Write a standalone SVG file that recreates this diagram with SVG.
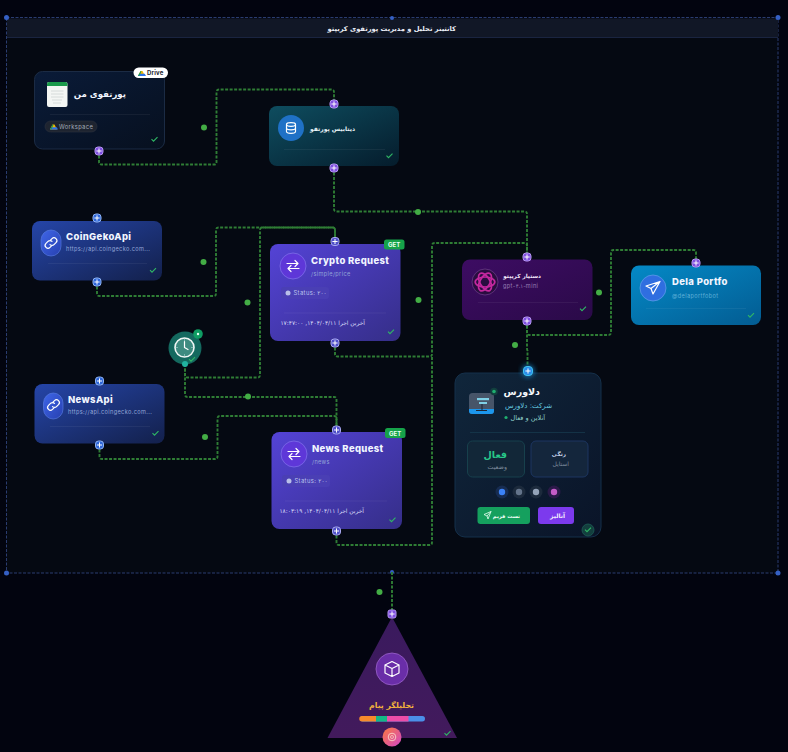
<svg xmlns="http://www.w3.org/2000/svg" width="788" height="752" viewBox="0 0 788 752">
<style>
text{font-family:"Inter","DejaVu Sans",sans-serif}
.fa{font-family:"DejaVu Sans","Noto Sans",sans-serif;direction:rtl}
.t{fill:#f1f5ff;font-weight:800;font-size:9.5px;letter-spacing:.35px}
.s{fill:#93a5d8;font-size:5.6px;letter-spacing:.38px}
.conn{fill:none;stroke:#2f7d35;stroke-width:1.9;stroke-dasharray:3 1.500;stroke-linejoin:round}
.dot{fill:#43ad45}
.chk{fill:none;stroke:#2fb765;stroke-width:1.1}
.div{stroke:#ffffff;stroke-opacity:.07;stroke-width:.8}
.ic{fill:none;stroke:#fff;stroke-width:1.2;stroke-linecap:round;stroke-linejoin:round}
.hc{stroke:#fff;stroke-width:1}
.hp{fill:#7f4fe0;stroke:#b596f2;stroke-width:1}
.hb{fill:#2e66d8;stroke:#8fb4f5;stroke-width:1}
.hi{fill:#4f4fc8;stroke:#a9a9f0;stroke-width:1}
.corner{fill:#3560c4}
</style>
<defs>
<linearGradient id="gP" x1="0" y1="0" x2="1" y2="1"><stop offset="0" stop-color="#0a1b38"/><stop offset="1" stop-color="#07101f"/></linearGradient>
<linearGradient id="gD" x1="0" y1="0" x2="1" y2="1"><stop offset="0" stop-color="#0e4d5f"/><stop offset="1" stop-color="#051c2c"/></linearGradient>
<linearGradient id="gA" x1="0" y1="0" x2="1" y2="1"><stop offset="0" stop-color="#2545a8"/><stop offset="1" stop-color="#13204b"/></linearGradient>
<linearGradient id="gR" x1="0" y1="0" x2="1" y2="1"><stop offset="0" stop-color="#5443d6"/><stop offset="1" stop-color="#352e88"/></linearGradient>
<linearGradient id="gO" x1="0" y1="0" x2="1" y2="1"><stop offset="0" stop-color="#3d0c63"/><stop offset="1" stop-color="#2a0a48"/></linearGradient>
<linearGradient id="gT" x1="0" y1="0" x2="1" y2="1"><stop offset="0" stop-color="#0489c6"/><stop offset="1" stop-color="#035c92"/></linearGradient>
<linearGradient id="gM" x1="0" y1="0" x2="1" y2="1"><stop offset="0" stop-color="#10263b"/><stop offset="1" stop-color="#0a1428"/></linearGradient>
<linearGradient id="gI" x1="0" y1="0" x2="1" y2="1"><stop offset="0" stop-color="#3f66e8"/><stop offset="1" stop-color="#2740b0"/></linearGradient>
<linearGradient id="gB" x1="0" y1="0" x2="1" y2="1"><stop offset="0" stop-color="#fb7a3c"/><stop offset="1" stop-color="#d346c8"/></linearGradient>
<linearGradient id="gV" x1="0" y1="0" x2="0" y2="1"><stop offset="0" stop-color="#3a1a5e"/><stop offset="1" stop-color="#421a5c"/></linearGradient>
<filter id="glow" x="-20%" y="-20%" width="140%" height="140%"><feGaussianBlur stdDeviation="2.5"/></filter>
<g id="plus"><path class="hc" d="M-2.6 0H2.6M0-2.6V2.6"/></g>
<g id="link"><path class="ic" d="M-1 -2.4l2-2a2.8 2.8 0 0 1 4 4l-2 2a2.8 2.8 0 0 1-4 0M1 2.4l-2 2a2.8 2.8 0 0 1-4-4l2-2a2.8 2.8 0 0 1 4 0"/></g>
<g id="loop"><path class="ic" d="M-6-2.5H4.5M2-5.5l3 3-3 3M6 2.5H-4.5M-2 5.5l-3-3 3-3"/></g>
<path id="check" class="chk" d="M0 2.2l2 2 4-4"/>
</defs>

<rect width="788" height="752" fill="#02040f"/>
<g id="container">
<rect x="6.500" y="17.500" width="771.500" height="555.500" fill="#050912" stroke="#2a3c70" stroke-width="1" stroke-dasharray="3 1.500"/>
<rect x="7" y="18.500" width="771" height="19" fill="#111726"/>
<line x1="7" y1="37.500" x2="778" y2="37.500" stroke="#1a2440"/>
<text class="fa" x="456" y="30.500" font-size="6.700" font-weight="700" fill="#e8ecf5" text-anchor="start">کانتینر تحلیل و مدیریت پورتفوی کریپتو</text>
<circle class="corner" cx="6.500" cy="17.500" r="2.500"/><circle class="corner" cx="392" cy="18" r="2"/><circle class="corner" cx="778" cy="17.500" r="2.500"/>
<circle class="corner" cx="6.500" cy="573" r="2.500"/><circle class="corner" cx="392" cy="572" r="2"/><circle class="corner" cx="778" cy="573" r="2.500"/>
</g>

<g id="connectors">
<path class="conn" d="M99 151V162q0 2.500 2.500 2.500H214q2.500 0 2.500-2.500V92q0-2.500 2.500-2.500H331.500q2.500 0 2.500 2.500V104"/>
<path class="conn" d="M334 168V209q0 2.500 2.500 2.500H524.500q2.500 0 2.500 2.500V257"/>
<path class="conn" d="M97 282V293.500q0 2.500 2.500 2.500H213.500q2.500 0 2.500-2.500V230q0-2.500 2.500-2.500H332.500q2.500 0 2.500 2.500V241.500"/>
<path class="conn" d="M185 364V375q0 2.500 2.500 2.500H257.500q2.500 0 2.500-2.500V230q0-2.500 2.500-2.500H332.500q2.500 0 2.500 2.500V241.500"/>
<path class="conn" d="M185 364V394.500q0 2.500 2.500 2.500H334q2.500 0 2.500 2.500V430"/>
<path class="conn" d="M99.500 445V456.500q0 2.500 2.500 2.500H215q2.500 0 2.500-2.500V418.500q0-2.500 2.500-2.500H334q2.500 0 2.500 2.500V430"/>
<path class="conn" d="M335 343V354q0 2.500 2.500 2.500H429.500q2.500 0 2.500-2.500V245.500q0-2.500 2.500-2.500H524.500q2.500 0 2.500 2.500V257"/>
<path class="conn" d="M336.500 531V542.500q0 2.500 2.500 2.500H429.500q2.500 0 2.500-2.500V356"/>
<path class="conn" d="M527 321V332.500q0 2.500 2.500 2.500H608.500q2.500 0 2.500-2.500V252.500q0-2.500 2.500-2.500H693.500q2.500 0 2.500 2.500V263"/>
<path class="conn" d="M527 321V348q0 2.500 .5 2.500V371"/>
<path class="conn" d="M392 572V614"/>
<circle class="dot" cx="204" cy="127.500" r="3"/>
<circle class="dot" cx="418" cy="212" r="3"/>
<circle class="dot" cx="203.500" cy="262" r="3"/>
<circle class="dot" cx="247.500" cy="302.500" r="3"/>
<circle class="dot" cx="248" cy="396.500" r="3"/>
<circle class="dot" cx="205" cy="437" r="3"/>
<circle class="dot" cx="418.500" cy="300" r="3"/>
<circle class="dot" cx="599" cy="292.500" r="3"/>
<circle class="dot" cx="515" cy="345" r="3"/>
<circle class="dot" cx="379.500" cy="592" r="3"/>
</g>

<g id="node-portfolio">
<rect x="34.500" y="71.500" width="130" height="77.500" rx="8" fill="url(#gP)" stroke="#1b2b44"/>
<line class="div" x1="50" y1="114.500" x2="150" y2="114.500"/>
<rect x="47" y="82" width="20.500" height="25" rx="2" fill="#f4f6f4"/>
<path d="M47 86v-2a2 2 0 0 1 2-2h16.500a2 2 0 0 1 2 2v2z" fill="#1a9a4b"/>
<path d="M51 91h12.500M51 94h12.500M51 97h12.500M52 100h10M53 103h8" stroke="#cfd6d4" stroke-width=".8"/>
<text class="fa" x="126" y="97" font-size="8.600" font-weight="700" fill="#f1f5ff">پورتفوی من</text>
<rect x="45" y="121" width="52" height="11" rx="5.500" fill="#1e2430" stroke="#2c3340" stroke-width=".6"/>
<path d="M50 129.500l2.500-5h2l2.500 5z" fill="#f4b400"/><path d="M50 129.500l1.200-2.300h5.600l1.200 2.300z" fill="#2a71e8"/><path d="M52.500 124.500l-2.500 5 1.200 0 2.300-4.500z" fill="#1a9a4b"/>
<text x="59" y="128.800" font-size="5.800" fill="#a3acba" letter-spacing=".35">Workspace</text>
<use href="#check" x="151.500" y="137"/>
<rect x="133.500" y="67.500" width="34.500" height="10.500" rx="5.200" fill="#fff"/>
<path d="M138 76l2.500-5h2l2.500 5z" fill="#f4b400"/><path d="M138 76l1.200-2.200h5.600l1.200 2.200z" fill="#2a71e8"/><path d="M140.500 71l-2.500 5 1.200 0 2.300-4.500z" fill="#1a9a4b"/>
<text x="147" y="74.500" font-size="6" font-weight="700" fill="#1c2430" letter-spacing=".2">Drive</text>
<rect class="hp" x="95" y="147" width="8" height="8" rx="3"/><use href="#plus" x="99" y="151"/>
</g>

<g id="node-database">
<rect x="269" y="106" width="130" height="60" rx="8" fill="url(#gD)"/>
<line class="div" x1="284" y1="149.500" x2="385" y2="149.500"/>
<circle cx="291" cy="128" r="13" fill="#1f71c6"/>
<ellipse class="ic" cx="291" cy="124.500" rx="4.500" ry="1.800" stroke-width=".9"/>
<path class="ic" stroke-width=".9" d="M286.500 124.500v7c0 1 2 1.800 4.500 1.800s4.500-.8 4.500-1.800v-7M286.500 128c0 1 2 1.800 4.500 1.800s4.500-.8 4.500-1.800"/>
<text class="fa" x="355" y="130.500" font-size="6" font-weight="700" fill="#e8f3f8">دیتابیس پورتفو</text>
<use href="#check" x="386.500" y="153.500"/>
<rect class="hp" x="330" y="100" width="8" height="8" rx="3"/><use href="#plus" x="334" y="104"/>
<rect class="hp" x="330" y="164" width="8" height="8" rx="3"/><use href="#plus" x="334" y="168"/>
</g>

<g id="node-coingecko">
<rect x="32" y="221" width="130" height="59.500" rx="8" fill="url(#gA)"/>
<line class="div" x1="48" y1="263.500" x2="147" y2="263.500"/>
<rect x="41" y="230" width="20" height="26" rx="10" fill="url(#gI)" stroke="#5b7fe8" stroke-width=".6"/>
<use href="#link" x="51" y="243"/>
<text class="t" x="66" y="240">CoinGekoApi</text>
<text class="s" x="66" y="251">https://api.coingecko.com...</text>
<use href="#check" x="150" y="268"/>
<rect class="hb" x="93" y="214" width="8" height="8" rx="3"/><use href="#plus" x="97" y="218"/>
<rect class="hb" x="93" y="278" width="8" height="8" rx="3"/><use href="#plus" x="97" y="282"/>
</g>

<g id="node-newsapi">
<rect x="34.500" y="384" width="130" height="59.500" rx="8" fill="url(#gA)"/>
<line class="div" x1="50" y1="426.500" x2="150" y2="426.500"/>
<rect x="43.500" y="393" width="19.500" height="26" rx="10" fill="url(#gI)" stroke="#5b7fe8" stroke-width=".6"/>
<use href="#link" x="53.500" y="405"/>
<text class="t" x="68" y="403">NewsApi</text>
<text class="s" x="68" y="414">https://api.coingecko.com...</text>
<use href="#check" x="152.500" y="431"/>
<rect class="hb" x="95.500" y="377" width="8" height="8" rx="3"/><use href="#plus" x="99.500" y="381"/>
<rect class="hb" x="95.500" y="441" width="8" height="8" rx="3"/><use href="#plus" x="99.500" y="445"/>
</g>

<g id="node-schedule">
<circle cx="185" cy="348" r="16.500" fill="#14695f"/>
<circle cx="184.500" cy="347.500" r="9.500" fill="#3e8b80" stroke="#f0f6f4" stroke-width="1.600"/>
<path class="ic" d="M184.500 341.500v6l3.500 2"/>
<path d="M184.500 339.500v1M184.500 354.500v1M176.500 347.500h1M191.500 347.500h1" stroke="#dff" stroke-width=".8"/>
<circle cx="198" cy="334" r="4.800" fill="#0f9d63"/><circle cx="198" cy="334" r="1.200" fill="#e8fff4"/>
<use href="#check" x="189" y="357"/>
<circle cx="185" cy="364" r="3" fill="#21b3a0"/>
</g>

<g id="node-crypto">
<rect x="270" y="244" width="130.500" height="97" rx="8" fill="url(#gR)"/>
<line class="div" x1="284" y1="313" x2="386" y2="313"/>
<circle cx="293" cy="266" r="13" fill="#5e37d8" stroke="#7d6de8" stroke-width=".8"/>
<use href="#loop" x="293" y="266"/>
<text class="t" x="311" y="264">Crypto Request</text>
<text class="s" x="311" y="276">/simple/price</text>
<rect x="281" y="287" width="48" height="12" rx="3" fill="#4a3fb4"/>
<circle cx="288" cy="293" r="2.500" fill="#b9bfe8"/>
<text x="293.500" y="295" font-size="5.800" fill="#bcc3ee" letter-spacing=".4">Status: ۲۰۰</text>
<text class="fa" x="365" y="324.500" font-size="5.900" fill="#d9dcf8">آخرین اجرا ۱۴۰۴/۰۴/۱۱, ۱۷:۴۷:۰۰</text>
<use href="#check" x="388" y="329.500"/>
<rect x="384" y="239.500" width="20.500" height="10" rx="2.500" fill="#16a34a"/>
<text x="394.200" y="247" font-size="6" font-weight="700" fill="#eafff1" text-anchor="middle">GET</text>
<rect class="hi" x="331" y="237.500" width="8" height="8" rx="3"/><use href="#plus" x="335" y="241.500"/>
<rect class="hi" x="331" y="339" width="8" height="8" rx="3"/><use href="#plus" x="335" y="343"/>
</g>

<g id="node-news">
<rect x="271.500" y="432" width="130.500" height="97" rx="8" fill="url(#gR)"/>
<line class="div" x1="285" y1="501" x2="387" y2="501"/>
<circle cx="294" cy="454" r="13" fill="#5e37d8" stroke="#7d6de8" stroke-width=".8"/>
<use href="#loop" x="294" y="454"/>
<text class="t" x="312" y="452">News Request</text>
<text class="s" x="312" y="464">/news</text>
<rect x="282" y="475" width="48" height="12" rx="3" fill="#4a3fb4"/>
<circle cx="289" cy="481" r="2.500" fill="#b9bfe8"/>
<text x="294.500" y="483" font-size="5.800" fill="#bcc3ee" letter-spacing=".4">Status: ۲۰۰</text>
<text class="fa" x="364" y="512.500" font-size="5.900" fill="#d9dcf8">آخرین اجرا ۱۴۰۴/۰۴/۱۱, ۱۸:۰۳:۱۹</text>
<use href="#check" x="389.500" y="517.500"/>
<rect x="385" y="428" width="20.500" height="10" rx="2.500" fill="#16a34a"/>
<text x="395.200" y="435.500" font-size="6" font-weight="700" fill="#eafff1" text-anchor="middle">GET</text>
<rect class="hi" x="332.500" y="426" width="8" height="8" rx="3"/><use href="#plus" x="336.500" y="430"/>
<rect class="hi" x="332.500" y="527" width="8" height="8" rx="3"/><use href="#plus" x="336.500" y="531"/>
</g>

<g id="node-assistant">
<rect x="462" y="259.500" width="130.500" height="60.500" rx="8" fill="url(#gO)"/>
<line class="div" x1="478" y1="302.500" x2="578" y2="302.500"/>
<circle cx="485" cy="282" r="13" fill="#2a0d40" stroke="#6a3a88" stroke-width=".8"/>
<g fill="none" stroke="#c4289f" stroke-width="1.700"><ellipse cx="485" cy="282" rx="9.800" ry="5" /><ellipse cx="485" cy="282" rx="9.800" ry="5" transform="rotate(60 485 282)"/><ellipse cx="485" cy="282" rx="9.800" ry="5" transform="rotate(120 485 282)"/></g>
<text class="fa" x="541" y="277.500" font-size="5.700" font-weight="700" fill="#f3e8fb">دستیار کریپتو</text>
<text class="s" x="503" y="288" style="fill:#9a7fb5">gpt-۴.۱-mini</text>
<use href="#check" x="580" y="306.500"/>
<rect class="hp" x="523" y="253" width="8" height="8" rx="3"/><use href="#plus" x="527" y="257"/>
<rect class="hp" x="523" y="317" width="8" height="8" rx="3"/><use href="#plus" x="527" y="321"/>
</g>

<g id="node-telegram">
<rect x="631" y="265.500" width="130" height="59.500" rx="8" fill="url(#gT)"/>
<line class="div" x1="646" y1="308.500" x2="746" y2="308.500"/>
<circle cx="653" cy="288" r="13" fill="#2f6ee0" stroke="#5b9ae8" stroke-width=".8"/>
<path class="ic" d="M660 281.500l-14 4.500 5 2.500 2 5.500zM651 288.500l9-7" stroke-width="1"/>
<text class="t" x="672" y="285">Dela Portfo</text>
<text class="s" x="672" y="298" style="fill:#5fb0d8">@delaportfobot</text>
<use href="#check" x="748" y="313"/>
<rect class="hp" x="692" y="259" width="8" height="8" rx="3"/><use href="#plus" x="696" y="263"/>
</g>

<g id="node-dalores">
<rect x="455" y="373" width="146" height="164" rx="10" fill="url(#gM)" stroke="#15304a" stroke-width="1"/>
<rect x="469" y="393" width="25" height="21" rx="3.500" fill="#475569"/>
<path d="M469 409h25v2a3 3 0 0 1-3 3h-19a3 3 0 0 1-3-3z" fill="#1c96ec"/>
<rect x="477" y="398" width="12" height="2.200" fill="#7fd0e6"/><rect x="479" y="402" width="8" height="2" fill="#7fd0e6"/>
<path d="M482 404v6M476 410.500h11" stroke="#1d2533" stroke-width="1"/>
<circle cx="494" cy="391.500" r="3.800" fill="#123f3e"/><circle cx="494" cy="391.500" r="1.800" fill="#1faf70"/>
<text class="fa" x="540" y="395" font-size="9.500" font-weight="700" fill="#f5f8fb">دلاورس</text>
<text class="fa" x="552" y="408" font-size="7" fill="#67cde0">شرکت: دلاورس</text>
<circle cx="506" cy="417.500" r="1.600" fill="#1faf70"/>
<text class="fa" x="545" y="420" font-size="6.500" fill="#8dd0c8">آنلاین و فعال</text>
<line x1="470" y1="432.500" x2="585" y2="432.500" stroke="#17384c" stroke-width=".8"/>
<rect x="467.500" y="441" width="57" height="36" rx="5" fill="#122738" stroke="#17404c"/>
<text class="fa" x="507" y="458" font-size="9.500" font-weight="700" fill="#28c88a">فعال</text>
<text class="fa" x="507" y="469" font-size="6.300" fill="#7d8b9c">وضعیت</text>
<rect x="531" y="441" width="57" height="36" rx="5" fill="#14263c" stroke="#1c3560"/>
<text class="fa" x="566" y="456" font-size="5.600" font-weight="700" fill="#c4d4ea">رنگی</text>
<text class="fa" x="569" y="466" font-size="6" fill="#7d8b9c">استایل</text>
<circle cx="502" cy="492" r="6.500" fill="#172c50"/><circle cx="502" cy="492" r="3.200" fill="#3b82f6"/>
<circle cx="519" cy="492" r="6.500" fill="#1c2a3c"/><circle cx="519" cy="492" r="3.200" fill="#64748b"/>
<circle cx="536" cy="492" r="6.500" fill="#1c2a3c"/><circle cx="536" cy="492" r="3.200" fill="#94a3b8"/>
<circle cx="554" cy="492" r="6.500" fill="#2a1a48"/><circle cx="554" cy="492" r="3.200" fill="#c55cc8"/>
<rect x="477.500" y="507" width="52.500" height="17" rx="3" fill="#15a05e"/>
<path d="M491 511.500l-7 3 3 1.500 1 3zM487 516l4-4.500" fill="none" stroke="#e6fff1" stroke-width=".8"/>
<text class="fa" x="520" y="518" font-size="5.200" font-weight="700" fill="#f0fff7">تست فریم</text>
<rect x="538" y="507" width="36" height="17" rx="3" fill="#7c3aed"/>
<text class="fa" x="565" y="517.500" font-size="6" font-weight="700" fill="#f3edff">آنالیز</text>
<circle cx="588" cy="530" r="6" fill="#133f3e" stroke="#1d5e55" stroke-width=".8"/>
<use href="#check" x="585" y="527.500"/>
<circle cx="528" cy="371" r="6.500" fill="#1e9ee8" filter="url(#glow)" opacity=".6"/>
<rect x="523.500" y="366.500" width="9" height="9" rx="3.500" fill="#2a8be8" stroke="#3ec4f0" stroke-width="1"/><use href="#plus" x="528" y="371"/>
</g>

<g id="node-analyzer">
<path d="M392 617L457 738H327.500z" fill="url(#gV)"/>
<circle cx="392" cy="669" r="16" fill="#6a2ea8" stroke="#9a62cc" stroke-width=".8"/>
<path class="ic" stroke-width="1" d="M392 661.500l7 3.500v8l-7 3.500-7-3.500v-8zM385 665l7 3.500 7-3.500M392 668.500v8"/>
<text class="fa" x="414" y="708" font-size="7.800" font-weight="700" fill="#f0b33c">تحلیلگر پیام</text>
<rect x="360" y="716" width="65" height="5.500" rx="2.700" fill="#4b8fe8"/>
<path d="M362 716h14v5.500h-14a2.700 2.700 0 0 1 0-5.500z" fill="#f78a2c"/>
<rect x="376" y="716" width="11" height="5.500" fill="#14b886"/>
<rect x="387" y="716" width="21.500" height="5.500" fill="#ec4da8"/>
<use href="#check" x="444.500" y="731"/>
<circle cx="392" cy="737" r="9.500" fill="url(#gB)"/>
<circle cx="392" cy="737" r="3.800" fill="none" stroke="#fbd5c8" stroke-width=".9"/><circle cx="392" cy="737" r="1.500" fill="none" stroke="#fbd5c8" stroke-width=".7"/>
<rect class="hp" x="388" y="610" width="8" height="8" rx="2" /><use href="#plus" x="392" y="614"/>
</g>
</svg>
